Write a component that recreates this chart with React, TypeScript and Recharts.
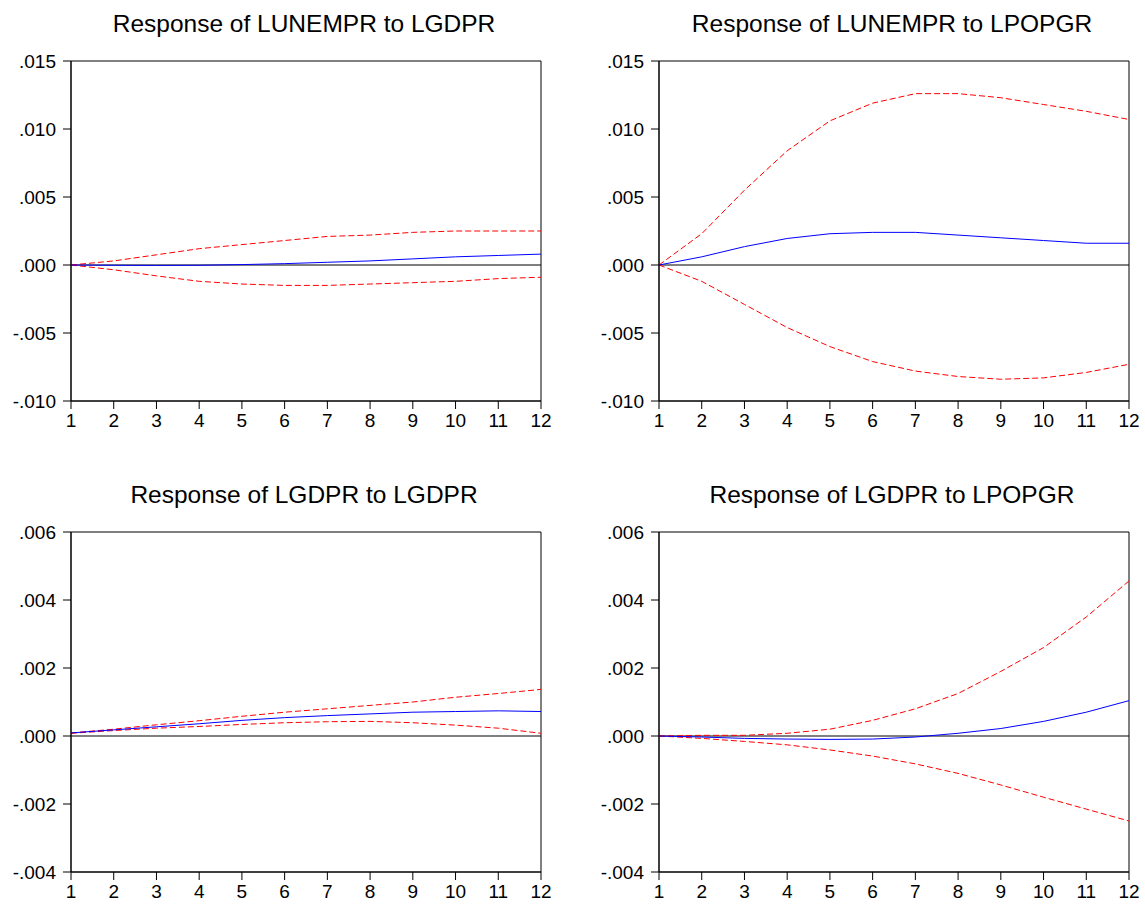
import React from 'react';
import { LineChart, Line, XAxis, YAxis, ReferenceLine, ReferenceArea } from 'recharts';

const periods = [1, 2, 3, 4, 5, 6, 7, 8, 9, 10, 11, 12];

// Response of LUNEMPR to LGDPR
const unGdpResp = [0, -0.00002, -0.00003, -0.00002, 0.00003, 0.0001, 0.0002, 0.0003, 0.00045, 0.0006, 0.0007, 0.0008];
const unGdpUpper = [0, 0.0003, 0.00075, 0.0012, 0.0015, 0.0018, 0.0021, 0.0022, 0.0024, 0.0025, 0.0025, 0.0025];
const unGdpLower = [0, -0.00035, -0.0008, -0.0012, -0.0014, -0.0015, -0.0015, -0.0014, -0.0013, -0.0012, -0.001, -0.0009];

// Response of LUNEMPR to LPOPGR
const unPopResp = [0, 0.0006, 0.00135, 0.00195, 0.0023, 0.0024, 0.0024, 0.0022, 0.002, 0.0018, 0.0016, 0.0016];
const unPopUpper = [0, 0.0023, 0.0055, 0.0084, 0.0106, 0.0119, 0.0126, 0.0126, 0.0123, 0.0118, 0.0113, 0.0107];
const unPopLower = [0, -0.0012, -0.0029, -0.0046, -0.006, -0.0071, -0.0078, -0.0082, -0.0084, -0.0083, -0.0079, -0.0073];

// Response of LGDPR to LGDPR
const gdpGdpResp = [0.00009, 0.00018, 0.00027, 0.00036, 0.00046, 0.00054, 0.0006, 0.00065, 0.0007, 0.00072, 0.00074, 0.00072];
const gdpGdpUpper = [0.00009, 0.0002, 0.00033, 0.00045, 0.00058, 0.0007, 0.0008, 0.0009, 0.001, 0.00114, 0.00125, 0.00137];
const gdpGdpLower = [0.00008, 0.00016, 0.00023, 0.00028, 0.00034, 0.00039, 0.00042, 0.00043, 0.00039, 0.00032, 0.00023, 0.00008];

// Response of LGDPR to LPOPGR
const gdpPopResp = [0, -0.00003, -0.00007, -0.00009, -0.0001, -0.00009, -0.00003, 0.00008, 0.00022, 0.00043, 0.0007, 0.00104];
const gdpPopUpper = [0, 0.00002, 0.00002, 0.00008, 0.0002, 0.00046, 0.0008, 0.00125, 0.0019, 0.0026, 0.0035, 0.00456];
const gdpPopLower = [0, -0.00007, -0.00016, -0.00026, -0.00041, -0.00059, -0.00082, -0.0011, -0.00144, -0.0018, -0.00215, -0.0025];

const topTicks = [-0.01, -0.005, 0, 0.005, 0.01, 0.015];
const bottomTicks = [-0.004, -0.002, 0, 0.002, 0.004, 0.006];

const FONT = '"Liberation Sans", Arial, sans-serif';

const fmt = (v: number) => {
  const s = Math.abs(v).toFixed(3).replace(/^0/, '');
  return v < 0 ? '-' + s : s;
};

interface PanelProps {
  title: string;
  left: number;
  top: number;
  ticks: number[];
  resp: number[];
  upper: number[];
  lower: number[];
}

function Panel({ title, left, top, ticks, resp, upper, lower }: PanelProps) {
  const data = periods.map((p, i) => ({ p, resp: resp[i], upper: upper[i], lower: lower[i] }));
  const yMin = ticks[0];
  const yMax = ticks[ticks.length - 1];
  return (
    <div style={{ position: 'absolute', left, top, width: 544, height: 424 }}>
      <div
        style={{
          position: 'absolute',
          left: 58,
          width: 470,
          top: 1,
          textAlign: 'center',
          fontFamily: FONT,
          fontSize: 24.5,
          color: '#000',
          whiteSpace: 'nowrap',
        }}
      >
        {title}
      </div>
      <LineChart
        width={544}
        height={424}
        data={data}
        margin={{ top: 52, right: 14, left: 0, bottom: 0 }}
        style={{ fontFamily: FONT }}
      >
        <XAxis
          dataKey="p"
          type="number"
          domain={[1, 12]}
          ticks={periods}
          interval={0}
          axisLine={{ stroke: '#000' }}
          tickLine={{ stroke: '#000' }}
          tickSize={8}
          tickMargin={5}
          tick={{ fill: '#000', fontSize: 19 }}
          height={32}
        />
        <YAxis
          type="number"
          domain={[yMin, yMax]}
          ticks={ticks}
          interval={0}
          tickFormatter={fmt}
          axisLine={{ stroke: '#000' }}
          tickLine={{ stroke: '#000' }}
          tickSize={8}
          tickMargin={7}
          tick={{ fill: '#000', fontSize: 19 }}
          width={60}
        />
        <ReferenceArea x1={1} x2={12} y1={yMin} y2={yMax} fill="none" stroke="#000" strokeWidth={1} />
        <ReferenceLine y={0} stroke="#000" strokeWidth={1} />
        <Line dataKey="upper" type="linear" stroke="#ff0000" strokeWidth={1} strokeDasharray="6 3" dot={false} isAnimationActive={false} />
        <Line dataKey="lower" type="linear" stroke="#ff0000" strokeWidth={1} strokeDasharray="6 3" dot={false} isAnimationActive={false} />
        <Line dataKey="resp" type="linear" stroke="#0000ff" strokeWidth={1} dot={false} isAnimationActive={false} />
      </LineChart>
    </div>
  );
}

export default function App() {
  return (
    <div style={{ position: 'relative', width: 1145, height: 904 }}>
      <style>{'body { margin: 0; overflow: hidden; }'}</style>
      <Panel title="Response of LUNEMPR to LGDPR" left={11} top={9} ticks={topTicks} resp={unGdpResp} upper={unGdpUpper} lower={unGdpLower} />
      <Panel title="Response of LUNEMPR to LPOPGR" left={599} top={9} ticks={topTicks} resp={unPopResp} upper={unPopUpper} lower={unPopLower} />
      <Panel title="Response of LGDPR to LGDPR" left={11} top={480} ticks={bottomTicks} resp={gdpGdpResp} upper={gdpGdpUpper} lower={gdpGdpLower} />
      <Panel title="Response of LGDPR to LPOPGR" left={599} top={480} ticks={bottomTicks} resp={gdpPopResp} upper={gdpPopUpper} lower={gdpPopLower} />
    </div>
  );
}
